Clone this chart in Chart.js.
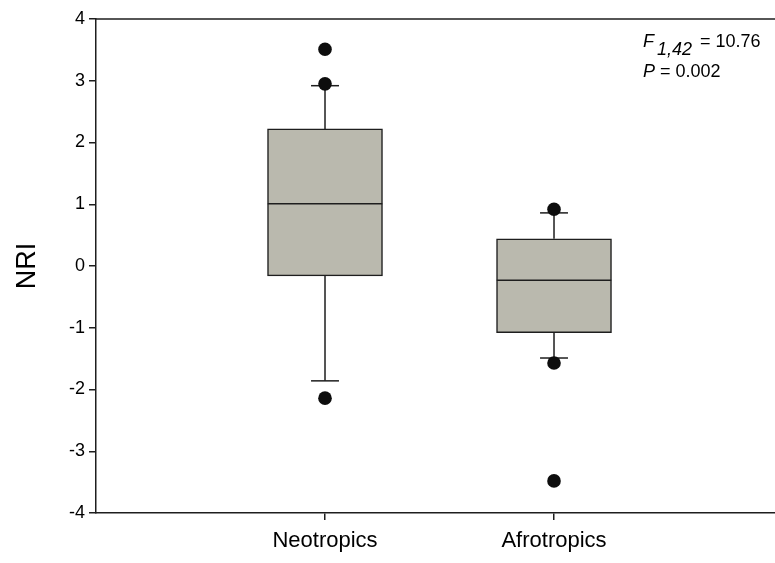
<!DOCTYPE html>
<html lang="en">
<head>
<meta charset="utf-8">
<title>NRI box plot</title>
<script src="https://cdn.jsdelivr.net/npm/chart.js@4.4.1/dist/chart.umd.min.js"></script>
<style>
  html, body { margin: 0; padding: 0; background: #fff; }
  #wrap { width: 775px; height: 563px; position: relative; }
</style>
</head>
<body>
<div id="wrap"><canvas id="chart"></canvas></div>
<script>
// values
const categories = ['Neotropics', 'Afrotropics'];
const q1 = [-0.16, -1.08];
const median = [1.01, -0.23];
const q3 = [2.22, 0.44];
const whiskerLow = [-1.86, -1.49];
const whiskerHigh = [2.92, 0.86];
const outliers = [[3.51, 2.95, -2.14], [0.92, -1.57, -3.48]];
const yRange = [-4, 4];
const statLine1 = ['F', '1,42', '= 10.76'];
const statLine2 = ['P', ' = 0.002'];

const FONT = "'Liberation Sans', Arial, sans-serif";
const INK = '#1e1e1e';
const BOX_HALF = 0.25;
const CAP_HALF = 0.061;

// whisker / cap / median segments as little line datasets
const lineSets = [];
function seg(x0, y0, x1, y1) {
	lineSets.push({
		type: 'line',
		data: [{x: x0, y: y0}, {x: x1, y: y1}],
		borderColor: INK,
		borderWidth: 1.5,
		pointRadius: 0,
		fill: false,
		order: 1
	});
}
for (var i = 0; i < categories.length; i++) {
	var x = i + 1;
	seg(x, q3[i], x, whiskerHigh[i]);
	seg(x, q1[i], x, whiskerLow[i]);
	seg(x - CAP_HALF, whiskerHigh[i], x + CAP_HALF, whiskerHigh[i]);
	seg(x - CAP_HALF, whiskerLow[i], x + CAP_HALF, whiskerLow[i]);
	seg(x - BOX_HALF, median[i], x + BOX_HALF, median[i]);
}

var outlierPts = [];
for (var i = 0; i < categories.length; i++) {
	for (var j = 0; j < outliers[i].length; j++) {
		outlierPts.push({x: i + 1, y: outliers[i][j]});
	}
}

const frame = {
	id: 'frame',
	afterDraw(chart) {
		const ctx = chart.ctx, a = chart.chartArea;
		ctx.save();
		ctx.strokeStyle = INK;
		ctx.lineWidth = 1.5;
		ctx.beginPath();
		ctx.moveTo(a.left, a.top);
		ctx.lineTo(a.right, a.top);
		ctx.stroke();

		// statistics note
		ctx.fillStyle = '#000';
		ctx.textBaseline = 'alphabetic';
		var x0 = a.left + 547;
		ctx.font = 'italic 18px ' + FONT;
		ctx.fillText(statLine1[0], x0, 47);
		var xs = x0 + ctx.measureText(statLine1[0]).width + 3;
		ctx.fillText(statLine1[1], xs, 55);
		xs += ctx.measureText(statLine1[1]).width + 8;
		ctx.font = '18px ' + FONT;
		ctx.fillText(statLine1[2], xs, 47);

		ctx.font = 'italic 18px ' + FONT;
		ctx.fillText(statLine2[0], x0, 77);
		var xp = x0 + ctx.measureText(statLine2[0]).width;
		ctx.font = '18px ' + FONT;
		ctx.fillText(statLine2[1], xp, 77);
		ctx.restore();
	}
};

const config = {
	type: 'scatter',
	data: {
		datasets: [{
			type: 'scatter',
			data: outlierPts,
			pointRadius: 6.8,
			pointBackgroundColor: '#0d0d0d',
			pointBorderColor: '#0d0d0d',
			pointBorderWidth: 0,
			order: 0
		}].concat(lineSets).concat([{
			type: 'bar',
			data: categories.map((c, i) => ({x: i + 1, y: [q1[i], q3[i]]})),
			barThickness: 115,
			backgroundColor: '#bab9ae',
			borderColor: INK,
			borderWidth: 1.5,
			borderSkipped: false,
			order: 2
		}])
	},
	options: {
		responsive: true,
		maintainAspectRatio: false,
		animation: false,
		layout: { autoPadding: false, padding: { top: 19, right: 0, bottom: 0, left: 0 } },
		plugins: { legend: { display: false }, tooltip: { enabled: false } },
		scales: {
			x: {
				type: 'linear',
				min: 0,
				max: 2.965,
				offset: false,
				afterBuildTicks: function(scale) {
					scale.ticks = categories.map((c, i) => ({value: i + 1}));
				},
				afterFit: function(scale) {
					scale.height = 50;
					scale.paddingLeft = 0;
					scale.paddingRight = 0;
				},
				ticks: {
					callback: function(v) { return categories[v - 1]; },
					color: '#000',
					padding: 8,
					maxRotation: 0,
					font: { family: FONT, size: 22 }
				},
				grid: { offset: false, drawOnChartArea: false, tickLength: 7, color: INK, lineWidth: 1.5 },
				border: { color: INK, width: 1.5 }
			},
			y: {
				min: yRange[0],
				max: yRange[1],
				afterFit: function(scale) { scale.width = 96; },
				ticks: {
					stepSize: 1,
					color: '#000',
					padding: 4,
					font: { family: FONT, size: 18 }
				},
				grid: { drawOnChartArea: false, tickLength: 7, color: INK, lineWidth: 1.5 },
				border: { color: INK, width: 1.5 },
				title: {
					display: true,
					text: 'NRI',
					color: '#000',
					padding: { top: 11, bottom: 0 },
					font: { family: FONT, size: 27 }
				}
			}
		}
	},
	plugins: [frame]
};

var chart = new Chart(document.getElementById('chart'), config);
</script>
</body>
</html>
